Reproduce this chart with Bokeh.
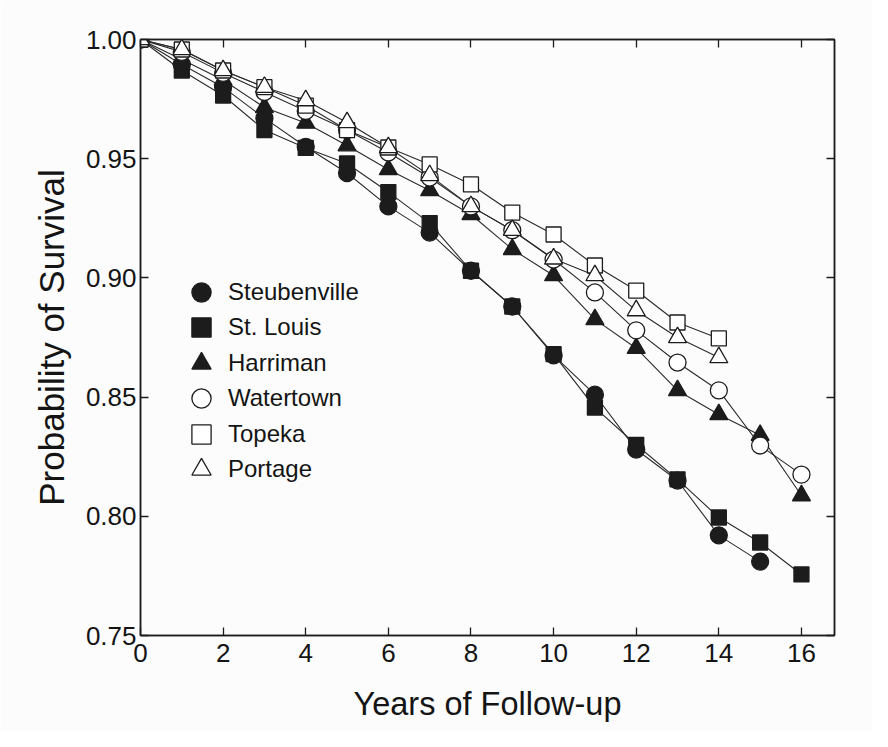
from bokeh.plotting import figure
from bokeh.models import Range1d, LinearAxis, FixedTicker, Legend, LegendItem, CustomJSTickFormatter
from bokeh.embed import file_html
from bokeh.resources import INLINE

# ---- data ----
years_all = [0, 1, 2, 3, 4, 5, 6, 7, 8, 9, 10, 11, 12, 13, 14, 15, 16]

steubenville_years = [0, 1, 2, 3, 4, 5, 6, 7, 8, 9, 10, 11, 12, 13, 14, 15]
steubenville = [1.000, 0.9895, 0.980, 0.967, 0.955, 0.944, 0.930, 0.919, 0.903,
                0.888, 0.8675, 0.851, 0.828, 0.815, 0.792, 0.781]

stlouis_years = years_all
stlouis = [1.000, 0.987, 0.9765, 0.962, 0.9545, 0.948, 0.936, 0.923, 0.903,
           0.888, 0.868, 0.8456, 0.830, 0.8155, 0.7995, 0.789, 0.7756]

harriman_years = years_all
harriman = [1.000, 0.9916, 0.983, 0.9715, 0.965, 0.9555, 0.9455, 0.9367, 0.9266,
            0.912, 0.901, 0.8826, 0.8705, 0.8528, 0.8427, 0.834, 0.8087]

watertown_years = years_all
watertown = [1.000, 0.9948, 0.986, 0.978, 0.970, 0.962, 0.9526, 0.9421, 0.930,
             0.920, 0.9077, 0.8939, 0.878, 0.8645, 0.8528, 0.8297, 0.8175]

topeka_years = [0, 1, 2, 3, 4, 5, 6, 7, 8, 9, 10, 11, 12, 13, 14]
topeka = [1.000, 0.9958, 0.987, 0.980, 0.9723, 0.962, 0.9547, 0.9476, 0.9392,
          0.9274, 0.9182, 0.9052, 0.8947, 0.8813, 0.8746]

portage_years = [0, 1, 2, 3, 4, 5, 6, 7, 8, 9, 10, 11, 12, 13, 14]
portage = [1.000, 0.9958, 0.987, 0.980, 0.9744, 0.9652, 0.9547, 0.943, 0.930,
           0.920, 0.908, 0.901, 0.8863, 0.875, 0.8666]

x_ticks = [0, 2, 4, 6, 8, 10, 12, 14, 16]
y_ticks = [0.75, 0.80, 0.85, 0.90, 0.95, 1.00]

series = [
    ("Steubenville", steubenville_years, steubenville, "circle", True, 17),
    ("St. Louis", stlouis_years, stlouis, "square", True, 15),
    ("Harriman", harriman_years, harriman, "triangle", True, 18),
    ("Watertown", watertown_years, watertown, "circle", False, 17),
    ("Topeka", topeka_years, topeka, "square", False, 15),
    ("Portage", portage_years, portage, "triangle", False, 18),
]

INK = "#1c1c1c"
TEXT = "#141414"
PAPER = "#fcfcfc"
FONT = "Liberation Sans"

p = figure(width=872, height=731, output_backend="svg", toolbar_location=None,
           x_range=Range1d(0, 16.8), y_range=Range1d(0.75, 1.0),
           x_axis_location=None, y_axis_location=None,
           min_border_left=140, min_border_right=38,
           min_border_top=39, min_border_bottom=96)
p.background_fill_color = PAPER
p.border_fill_color = PAPER
p.outline_line_color = INK
p.outline_line_width = 1.5
p.xgrid.visible = False
p.ygrid.visible = False


def style_axis(ax, labels=True):
    ax.axis_line_color = INK
    ax.axis_line_width = 1.5
    ax.major_tick_in = 8
    ax.major_tick_out = 0
    ax.minor_tick_in = 0
    ax.minor_tick_out = 0
    ax.major_tick_line_color = INK
    ax.major_tick_line_width = 1.3
    ax.major_label_text_font = FONT
    ax.major_label_text_font_size = "26px"
    ax.major_label_text_color = TEXT
    if not labels:
        ax.major_label_text_font_size = "0px"
        ax.major_label_text_alpha = 0


xb = LinearAxis(ticker=FixedTicker(ticks=x_ticks), axis_label="Years of Follow-up")
style_axis(xb)
xb.major_label_standoff = 8
xb.axis_label_text_font = FONT
xb.axis_label_text_font_size = "32.5px"
xb.axis_label_text_font_style = "normal"
xb.axis_label_text_color = TEXT
xb.axis_label_standoff = 21
p.add_layout(xb, "below")

yl = LinearAxis(ticker=FixedTicker(ticks=y_ticks), axis_label="Probability of Survival")
style_axis(yl)
yl.major_label_standoff = 4
yl.formatter = CustomJSTickFormatter(code="return tick.toFixed(2);")
yl.axis_label_text_font = FONT
yl.axis_label_text_font_size = "35px"
yl.axis_label_text_font_style = "normal"
yl.axis_label_text_color = TEXT
yl.axis_label_standoff = 12
p.add_layout(yl, "left")

xt = LinearAxis(ticker=FixedTicker(ticks=x_ticks))
style_axis(xt, labels=False)
p.add_layout(xt, "above")

yr = LinearAxis(ticker=FixedTicker(ticks=y_ticks))
style_axis(yr, labels=False)
p.add_layout(yr, "right")

# lines first
for name, xs, ys, marker, filled, size in series:
    p.line(xs, ys, line_color="#2a2a2a", line_width=1.1)

renderers = []
for name, xs, ys, marker, filled, size in series:
    r = p.scatter(xs, ys, marker=marker, size=size,
                  fill_color=INK if filled else "white",
                  line_color=INK, line_width=1.3)
    renderers.append((name, r))

# one legend box per entry so that the entries can sit closer than the glyph box
LEG_X = 37
LEG_Y0 = 319
LEG_STEP = 35.4
for i, (name, r) in enumerate(renderers):
    lg = Legend(items=[LegendItem(label=name, renderers=[r])],
                location=(LEG_X, LEG_Y0 - LEG_STEP * i))
    lg.background_fill_alpha = 0
    lg.border_line_alpha = 0
    lg.padding = 0
    lg.margin = 0
    lg.spacing = 0
    lg.glyph_width = 48
    lg.glyph_height = 48
    lg.label_height = 30
    lg.label_standoff = 3
    lg.label_text_font = FONT
    lg.label_text_font_size = "24px"
    lg.label_text_color = TEXT
    p.add_layout(lg, "center")

html = file_html(p, INLINE, title="Probability of Survival")
html = html.replace("<body>", '<body style="background-color:#16004a;">', 1)
open("out.html", "w").write(html)
